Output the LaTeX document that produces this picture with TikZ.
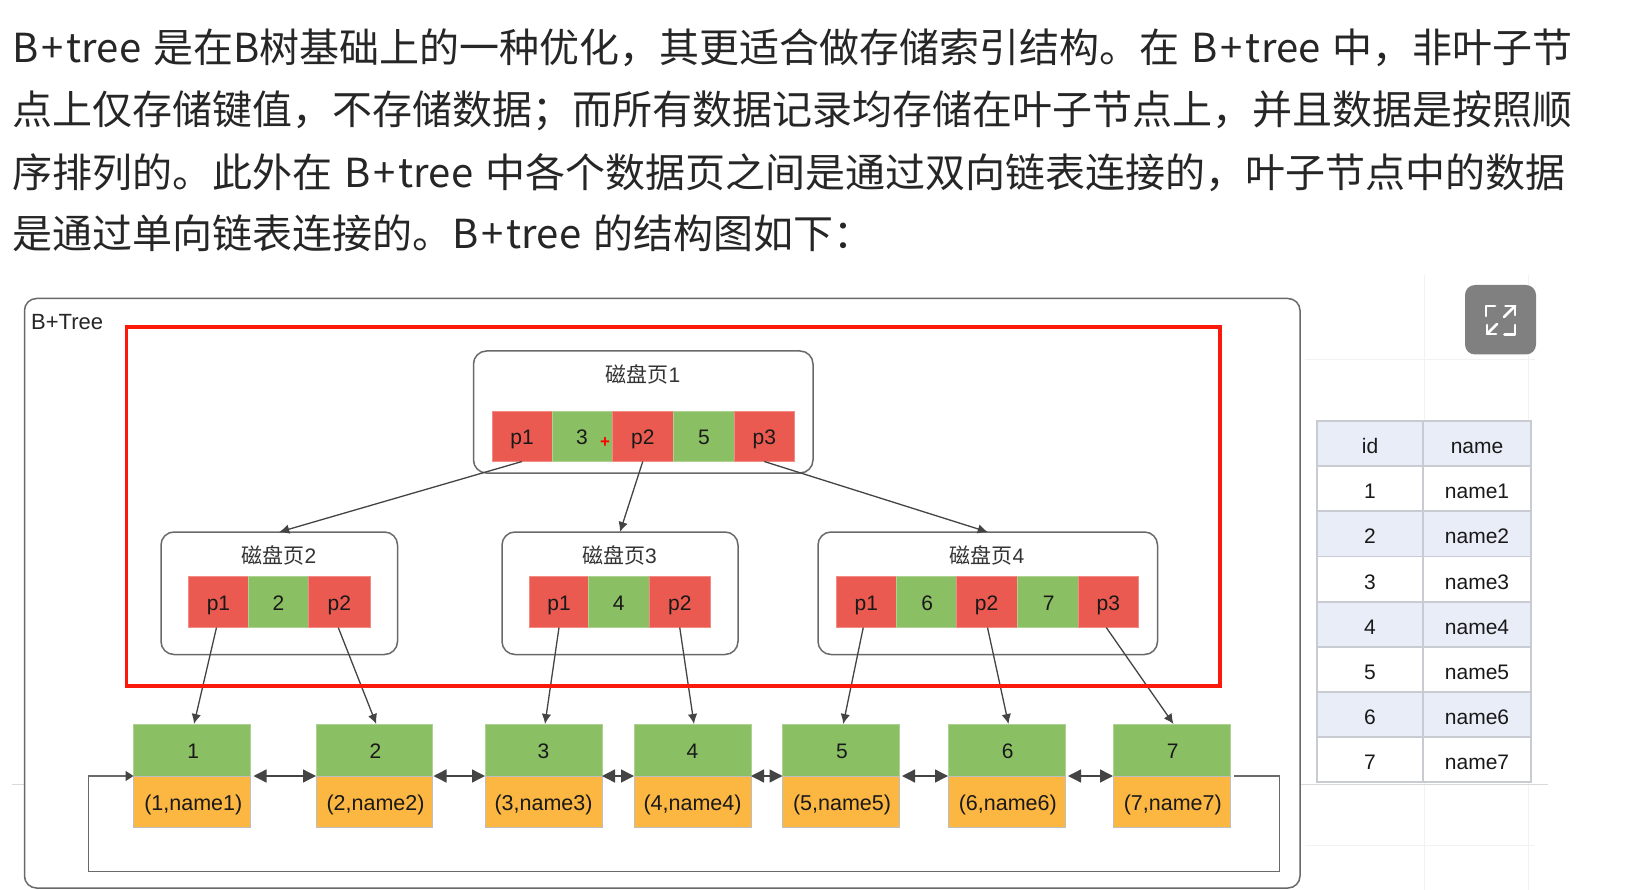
\documentclass[tikz,border=0pt]{standalone}
\usepackage{fontspec}
\setmainfont{Liberation Sans}
\newfontfamily\cjk{Noto Sans CJK SC}
\usetikzlibrary{arrows.meta,calc}
\definecolor{cellred}{HTML}{EB5A50}
\definecolor{cellgreen}{HTML}{8BBF64}
\definecolor{cellorange}{HTML}{FCB742}
\definecolor{linegray}{HTML}{696969}
\definecolor{arrowgray}{HTML}{444444}
\definecolor{rowblue}{HTML}{E9EDF7}
\definecolor{rowline}{HTML}{C8CBD1}
\definecolor{gridfaint}{HTML}{F2F2F2}
% Product name with its loose letter spacing, and the wider gap around it
\newcommand{\bptree}{B\hspace{.08em}+\hspace{.07em}tree}
\newcommand{\wsp}{\hspace{.3em}}
\newcommand{\nudged}[1]{\hspace{2.5pt}#1}
\tikzset{
  x=1pt, y=-1pt,
  para/.style={anchor=west, inner sep=0pt, text=black!85, font=\cjk\fontsize{40}{48}\selectfont},
  cellbase/.style={inner sep=0pt, outer sep=0pt, font=\fontsize{21}{25}\selectfont, text=black!90, text height=17pt, text depth=0pt},
  redcell/.style={cellbase, fill=cellred, draw=cellred!70!white, line width=0.6pt},
  greencell/.style={cellbase, fill=cellgreen, draw=cellgreen!70!white, line width=0.6pt},
  orangecell/.style={cellbase, fill=cellorange, draw=black!25!white, line width=0.6pt, font=\fontsize{21.5}{25}\selectfont},
  pagebox/.style={draw=linegray, fill=white, line width=1.5pt, rounded corners=13pt, inner sep=0pt, outer sep=0pt},
  pagelabel/.style={inner sep=0pt, text=black!80, font=\fontsize{21}{24}\selectfont},
  treearrow/.style={draw=arrowgray, line width=1.3pt, -{Latex[length=10pt,width=9.5pt]}},
  linkarrow/.style={draw=arrowgray, line width=1.4pt, {Triangle[length=13pt,width=13pt]}-{Triangle[length=13pt,width=13pt]}},
  looparrow/.style={draw=linegray, line width=1.6pt, -{Triangle[length=8pt,width=10pt,color=arrowgray]}},
  rowbase/.style={cellbase, draw=rowline, line width=1.2pt, font=\fontsize{21}{25}\selectfont, text height=20pt},
  headrow/.style={rowbase, fill=rowblue},
  oddrow/.style={rowbase, fill=white},
  evenrow/.style={rowbase, fill=rowblue},
  grid faint/.style={draw=gridfaint, line width=1pt},
}
% #1 style, #2 name, #3 x-left, #4 y-top, #5 x-right, #6 y-bottom, #7 text
\newcommand{\boxat}[7]{%
  \pgfmathsetmacro{\bxw}{#5-#3}\pgfmathsetmacro{\bxh}{#6-#4}%
  \pgfmathsetmacro{\bxx}{(#5+#3)/2}\pgfmathsetmacro{\bxy}{(#6+#4)/2}%
  \node[#1, minimum width=\bxw pt, minimum height=\bxh pt] (#2) at (\bxx,\bxy) {#7};%
}
\begin{document}
\begin{tikzpicture}
\useasboundingbox (0,0) rectangle (1633,890);
\fill[white] (0,0) rectangle (1633,890);

% Paragraph above the diagram
\node[para] (line1) at (12,48) {\bptree\wsp 是在B树基础上的一种优化，其更适合做存储索引结构。在\wsp\bptree\wsp 中，非叶子节};
\node[para] (line2) at (12,111) {点上仅存储键值，不存储数据；而所有数据记录均存储在叶子节点上，并且数据是按照顺};
\node[para] (line3) at (12,173) {序排列的。此外在\wsp\bptree\wsp 中各个数据页之间是通过双向链表连接的，叶子节点中的数据};
\node[para] (line4) at (12,233) {是通过单向链表连接的。\bptree\wsp 的结构图如下：};

% Page background rules
\draw[grid faint] (1424,275) -- (1424,890);
\draw[grid faint] (1528,275) -- (1528,890);
\draw[grid faint] (1305,360) -- (1535,360);
\draw[grid faint] (1305,845) -- (1535,845);
\draw[draw=black!15, line width=1pt] (12,784) -- (1548,784);

% Outer frame
\boxat{draw=linegray, fill=white, line width=1.5pt, rounded corners=12pt, inner sep=0pt}{frame}{24.5}{298.5}{1300}{888}{}
\node[inner sep=0pt, anchor=west, text=black!85, font=\fontsize{22}{25}\selectfont] (title) at (31,322) {B+Tree};

% Disk pages
\boxat{pagebox}{page1}{473.5}{351}{813}{473}{}
\boxat{pagebox}{page2}{161}{532}{397.5}{654.5}{}
\boxat{pagebox}{page3}{502}{532}{738}{654.5}{}
\boxat{pagebox}{page4}{818}{532}{1157.5}{654.5}{}
\node[pagelabel] (label1) at (643,374.5) {{\cjk 磁盘页}1};
\node[pagelabel] (label2) at (279,555) {{\cjk 磁盘页}2};
\node[pagelabel] (label3) at (619.5,555) {{\cjk 磁盘页}3};
\node[pagelabel] (label4) at (987,555) {{\cjk 磁盘页}4};

% Cells of page 1
\boxat{redcell}{a1}{492}{411}{552}{461.5}{p1}
\boxat{greencell}{a2}{552}{411}{612}{461.5}{3}
\boxat{redcell}{a3}{612}{411}{673.5}{461.5}{p2}
\boxat{greencell}{a4}{673.5}{411}{734.5}{461.5}{5}
\boxat{redcell}{a5}{734.5}{411}{794}{461.5}{p3}
% Cells of page 2
\boxat{redcell}{b1}{188.5}{576.5}{248.5}{627.5}{p1}
\boxat{greencell}{b2}{248.5}{576.5}{308.5}{627.5}{2}
\boxat{redcell}{b3}{308.5}{576.5}{370}{627.5}{p2}
% Cells of page 3
\boxat{redcell}{c1}{529.5}{576.5}{588.5}{627.5}{p1}
\boxat{greencell}{c2}{588.5}{576.5}{649}{627.5}{4}
\boxat{redcell}{c3}{649}{576.5}{710.5}{627.5}{p2}
% Cells of page 4
\boxat{redcell}{d1}{836.5}{576.5}{896}{627.5}{p1}
\boxat{greencell}{d2}{896}{576.5}{956}{627.5}{\nudged{6}}
\boxat{redcell}{d3}{956}{576.5}{1017}{627.5}{p2}
\boxat{greencell}{d4}{1017}{576.5}{1078}{627.5}{\nudged{7}}
\boxat{redcell}{d5}{1078}{576.5}{1138.5}{627.5}{p3}

% Leaf records
\boxat{greencell}{k1}{133.5}{724}{250.5}{776}{\nudged{1}}
\boxat{orangecell}{v1}{133.5}{776}{250.5}{827.5}{\nudged{(1,name1)}}
\boxat{greencell}{k2}{316}{724}{432.5}{776}{\nudged{2}}
\boxat{orangecell}{v2}{316}{776}{432.5}{827.5}{\nudged{(2,name2)}}
\boxat{greencell}{k3}{485}{724}{602}{776}{3}
\boxat{orangecell}{v3}{485}{776}{602}{827.5}{(3,name3)}
\boxat{greencell}{k4}{634}{724}{751}{776}{4}
\boxat{orangecell}{v4}{634}{776}{751}{827.5}{(4,name4)}
\boxat{greencell}{k5}{782.5}{724}{899}{776}{\nudged{5}}
\boxat{orangecell}{v5}{782.5}{776}{899}{827.5}{\nudged{(5,name5)}}
\boxat{greencell}{k6}{948}{724}{1065}{776}{\nudged{6}}
\boxat{orangecell}{v6}{948}{776}{1065}{827.5}{\nudged{(6,name6)}}
\boxat{greencell}{k7}{1113}{724}{1230}{776}{\nudged{7}}
\boxat{orangecell}{v7}{1113}{776}{1230}{827.5}{\nudged{(7,name7)}}

% Tree pointers
\draw[treearrow] (a1.south) -- (page2.north);
\draw[treearrow] (a3.south) -- (page3.north);
\draw[treearrow] (a5.south) -- (page4.north);
\draw[treearrow] ([xshift=-2pt]b1.south) -- ([xshift=2pt]k1.north);
\draw[treearrow] ([xshift=-1pt]b3.south) -- ([xshift=2pt]k2.north);
\draw[treearrow] (c1.south) -- ([xshift=1.5pt]k3.north);
\draw[treearrow] (c3.south) -- ([xshift=1.5pt]k4.north);
\draw[treearrow] ([xshift=-3pt]d1.south) -- ([xshift=2.5pt]k5.north);
\draw[treearrow] ([xshift=1pt]d3.south) -- ([xshift=2pt]k6.north);
\draw[treearrow] ([xshift=-2pt]d5.south) -- ([xshift=2pt]k7.north);

% Links between neighbouring leaves
\draw[linkarrow] ([xshift=3pt]k1.south east) -- (k2.south west);
\draw[linkarrow] ([xshift=1pt]k2.south east) -- (k3.south west);
\draw[linkarrow] (k3.south east) -- (k4.south west);
\draw[linkarrow] (k4.south east) -- (k5.south west);
\draw[linkarrow] ([xshift=3pt]k5.south east) -- (k6.south west);
\draw[linkarrow] ([xshift=3pt]k6.south east) -- (k7.south west);

% Return line from the last leaf to the first
\coordinate (loopR) at (1279.5,871.5);
\coordinate (loopL) at (88.5,871.5);
\draw[looparrow] ([xshift=4pt]k7.south east) -| (loopR) -- (loopL) |- (k1.south west);

% Red highlight
\boxat{draw={rgb,255:red,250;green,25;blue,10}, line width=3.6pt, inner sep=0pt}{highlight}{126.5}{327}{1220}{686}{}

% Red cursor mark
\node[inner sep=0pt, text=red, font=\fontsize{17}{17}\selectfont\bfseries] (cursor) at (605,443) {+};

% Expand button
\boxat{fill=black!50, rounded corners=10pt, inner sep=0pt}{expand}{1465}{285}{1536}{354.5}{}
\begin{scope}[draw=white, line width=2.8pt, line cap=round, line join=round]
  \draw (1486,316) -- (1486,306) -- (1495,306);
  \draw (1505.5,306) -- (1515,306) -- (1515,315);
  \draw (1515,306) -- (1504,317);
  \draw (1487,325) -- (1487,334) -- (1496,334);
  \draw (1487,334) -- (1497,324);
  \draw (1515,325) -- (1515,334.5) -- (1504.5,334.5);
\end{scope}

% Table of records
\boxat{headrow}{tid}{1317}{421}{1423}{466}{id}
\boxat{headrow}{tname}{1423}{421}{1531}{466}{name}
\boxat{oddrow}{r1a}{1317}{466}{1423}{511}{1}
\boxat{oddrow}{r1b}{1423}{466}{1531}{511}{name1}
\boxat{evenrow}{r2a}{1317}{511}{1423}{556.5}{2}
\boxat{evenrow}{r2b}{1423}{511}{1531}{556.5}{name2}
\boxat{oddrow}{r3a}{1317}{556.5}{1423}{602}{3}
\boxat{oddrow}{r3b}{1423}{556.5}{1531}{602}{name3}
\boxat{evenrow}{r4a}{1317}{602}{1423}{647}{4}
\boxat{evenrow}{r4b}{1423}{602}{1531}{647}{name4}
\boxat{oddrow}{r5a}{1317}{647}{1423}{692}{5}
\boxat{oddrow}{r5b}{1423}{647}{1531}{692}{name5}
\boxat{evenrow}{r6a}{1317}{692}{1423}{737}{6}
\boxat{evenrow}{r6b}{1423}{692}{1531}{737}{name6}
\boxat{oddrow}{r7a}{1317}{737}{1423}{782}{7}
\boxat{oddrow}{r7b}{1423}{737}{1531}{782}{name7}
\end{tikzpicture}
\end{document}
